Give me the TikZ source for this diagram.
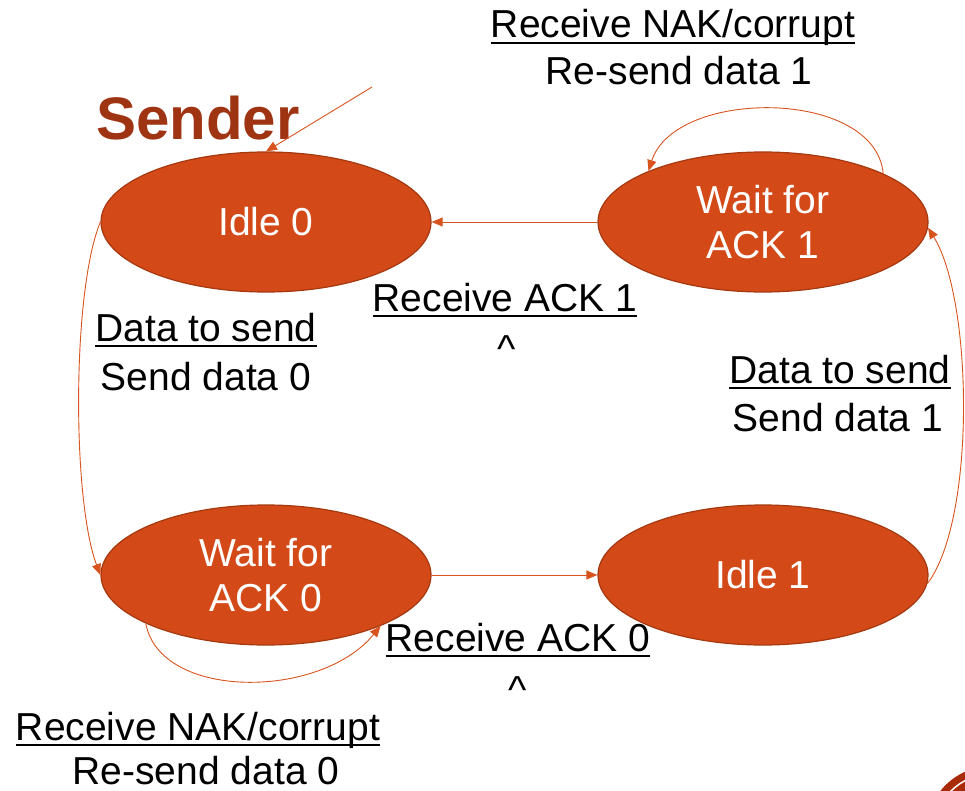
\documentclass[tikz,border=0pt]{standalone}
\usepackage{fontspec}
\setmainfont{Liberation Sans}
\usetikzlibrary{shapes.geometric,arrows.meta}
\definecolor{statefill}{HTML}{D34A18}
\definecolor{stateedge}{HTML}{A5380F}
\definecolor{linkcol}{HTML}{D9531E}
\definecolor{sendercol}{HTML}{9F3413}
\definecolor{cornercol}{HTML}{A82A06}
\newcommand{\myul}[1]{{\setbox0\hbox{#1}\rlap{\rule[-0.16em]{\wd0}{0.055em}}\box0}}
\tikzset{
  statenode/.style={ellipse, draw=stateedge, line width=1.2pt, fill=statefill,
    minimum width=330pt, minimum height=140pt, inner sep=0pt,
    text=white, align=center, font=\fontsize{39}{45}\selectfont},
  lbl/.style={anchor=base, inner sep=0pt, font=\fontsize{39}{45}\selectfont},
  link/.style={draw=linkcol, line width=0.9pt, -{Triangle[length=11pt,width=9pt]}}
}
\begin{document}
\begin{tikzpicture}[x=1pt,y=-1pt]
\useasboundingbox (0,0) rectangle (965,791);
% corner decoration
\begin{scope}
\clip (0,0) rectangle (965,791);
\fill[cornercol] (992,832) circle (66);
\draw[white, line width=1.5pt] (992,832) circle (58);
\end{scope}

\node[anchor=base west, inner sep=0pt, text=sendercol, font=\fontsize{60}{70}\selectfont\bfseries] (sender) at (96,140) {Sender};

\node[statenode] (idle0) at (266,222) {Idle 0};
\node[statenode] (wait1) at (763,222) {Wait for\\ACK 1};
\node[statenode] (wait0) at (266,575) {Wait for\\ACK 0};
\node[statenode] (idle1) at (763,575) {Idle 1};

% labels
\node[lbl] (t1) at (673,38) {\myul{Receive NAK/corrupt}};
\node[lbl] (t2) at (679,85) {Re-send data 1};
\node[lbl] (r1) at (505,311) {\myul{Receive ACK 1}};
\node[lbl] (r1c) at (507,362) {\^{}};
\node[lbl] (d0) at (206,341) {\myul{Data to send}};
\node[lbl] (s0) at (206,390) {Send data 0};
\node[lbl] (d1) at (840,383) {\myul{Data to send}};
\node[lbl] (s1) at (838,431) {Send data 1};
\node[lbl] (r0) at (518,651) {\myul{Receive ACK 0}};
\node[lbl] (r0c) at (518,703) {\^{}};
\node[lbl] (b1) at (198,740) {\myul{Receive NAK/corrupt}};
\node[lbl] (b2) at (206,784) {Re-send data 0};

% connectors
\coordinate (start) at (372,87);
\draw[link] (start) -- (idle0.north);
\draw[link] (wait1.west) -- (idle0.east);
\draw[link] (wait0.east) -- (idle1.west);
\draw[link] (idle0.west) .. controls (72,290) and (72,500) .. (wait0.west);
\draw[link] (idle1.-3) .. controls (976,520) and (973,300) .. (wait1.-2);
\draw[link] (wait1.22) .. controls (875,88) and (675,88) .. (wait1.156);
\draw[link] (wait0.202) .. controls (160,700) and (320,700) .. (wait0.336);
\end{tikzpicture}
\end{document}
